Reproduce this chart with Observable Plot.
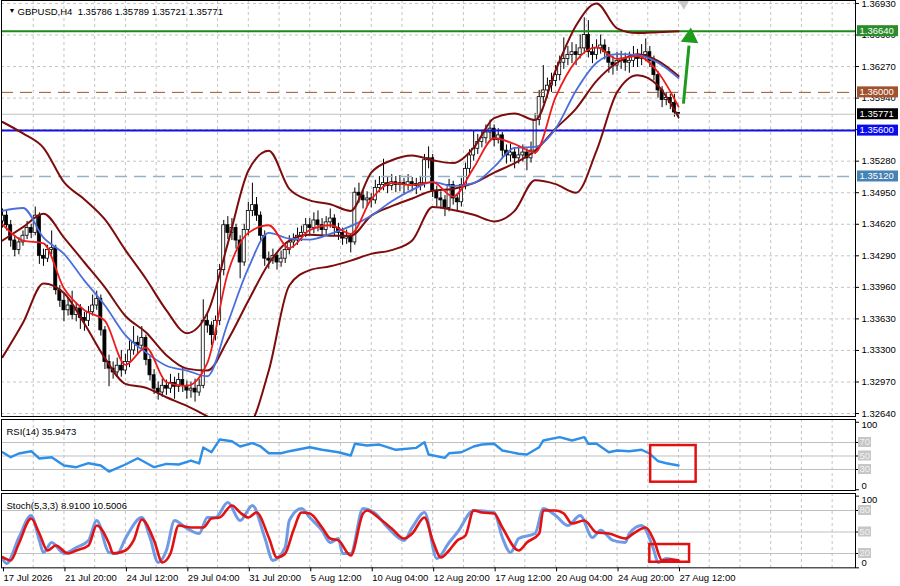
<!DOCTYPE html>
<html><head><meta charset="utf-8">
<script src="https://cdn.jsdelivr.net/npm/d3@7"></script>
<script src="https://cdn.jsdelivr.net/npm/@observablehq/plot@0.6"></script>
<style>
html,body{margin:0;padding:0;background:#fff;}
#chart{position:relative;width:900px;height:586px;overflow:hidden;background:#fff;}
#chart svg{position:absolute;left:0;}
</style></head><body><div id="chart"></div>
<script>
// ---------- DATA ----------
const header = "GBPUSD,H4  1.35786 1.35789 1.35721 1.35771";
const o = [1.3465,1.3471,1.3461,1.3445,1.3435,1.3443,1.3450,1.3458,1.3453,1.3471,
 1.3429,1.3426,1.3435,1.3437,1.3393,1.3382,1.3372,1.3377,1.3367,1.3374,
 1.3364,1.3361,1.3370,1.3377,1.3384,1.3351,1.3318,1.3311,1.3307,1.3314,
 1.3309,1.3318,1.3330,1.3338,1.3335,1.3343,1.3320,1.3304,1.3290,1.3286,
 1.3293,1.3290,1.3296,1.3292,1.3299,1.3293,1.3288,1.3290,1.3286,1.3293,
 1.3361,1.3356,1.3346,1.3361,1.3414,1.3461,1.3453,1.3458,1.3445,1.3422,
 1.3456,1.3476,1.3482,1.3471,1.3450,1.3426,1.3424,1.3429,1.3422,1.3426,
 1.3435,1.3443,1.3445,1.3450,1.3453,1.3461,1.3458,1.3466,1.3461,1.3456,
 1.3464,1.3468,1.3458,1.3453,1.3447,1.3449,1.3443,1.3495,1.3492,1.3487,
 1.3489,1.3487,1.3500,1.3503,1.3505,1.3502,1.3506,1.3503,1.3505,1.3503,
 1.3506,1.3504,1.3502,1.3505,1.3529,1.3531,1.3497,1.3489,1.3487,1.3479,
 1.3503,1.3489,1.3485,1.3503,1.3520,1.3534,1.3541,1.3548,1.3552,1.3558,
 1.3562,1.3550,1.3555,1.3539,1.3534,1.3537,1.3531,1.3534,1.3537,1.3531,
 1.3539,1.3571,1.3595,1.3602,1.3607,1.3612,1.3618,1.3631,1.3635,1.3639,
 1.3642,1.3639,1.3646,1.3660,1.3642,1.3639,1.3646,1.3649,1.3642,1.3631,
 1.3628,1.3633,1.3635,1.3631,1.3633,1.3637,1.3635,1.3639,1.3642,1.3633,
 1.3618,1.3602,1.3592,1.3594,1.3589,1.35786];
const h = [1.3478,1.3476,1.3466,1.3450,1.3448,1.3455,1.3465,1.3462,1.3480,1.3474,
 1.3436,1.3440,1.3455,1.3440,1.3398,1.3390,1.3385,1.3392,1.3380,1.3378,
 1.3370,1.3376,1.3388,1.3392,1.3388,1.3355,1.3325,1.3318,1.3322,1.3330,
 1.3326,1.3340,1.3355,1.3345,1.3355,1.3346,1.3325,1.3310,1.3297,1.3300,
 1.3299,1.3305,1.3302,1.3306,1.3312,1.3298,1.3297,1.3300,1.3300,1.3383,
 1.3370,1.3360,1.3366,1.3420,1.3466,1.3470,1.3468,1.3462,1.3450,1.3462,
 1.3485,1.3505,1.3490,1.3475,1.3455,1.3433,1.3436,1.3432,1.3434,1.3442,
 1.3450,1.3452,1.3458,1.3460,1.3468,1.3468,1.3474,1.3476,1.3468,1.3470,
 1.3478,1.3472,1.3463,1.3458,1.3456,1.3452,1.3500,1.3505,1.3498,1.3496,
 1.3494,1.3508,1.3512,1.3530,1.3512,1.3514,1.3512,1.3513,1.3510,1.3514,
 1.3511,1.3510,1.3512,1.3535,1.3543,1.3535,1.3502,1.3496,1.3492,1.3509,
 1.3507,1.3494,1.3510,1.3526,1.3540,1.3560,1.3556,1.3560,1.3566,1.3571,
 1.3566,1.3562,1.3558,1.3545,1.3546,1.3541,1.3544,1.3545,1.3541,1.3548,
 1.3578,1.3602,1.3628,1.3615,1.3620,1.3628,1.3638,1.3657,1.3648,1.3652,
 1.3650,1.3660,1.3678,1.3675,1.3650,1.3655,1.3660,1.3655,1.3647,1.3638,
 1.3642,1.3643,1.3641,1.3642,1.3648,1.3645,1.3650,1.3656,1.3648,1.3638,
 1.3622,1.3606,1.3600,1.3598,1.3598,1.35789];
const l = [1.3458,1.3455,1.3438,1.3428,1.3430,1.3439,1.3446,1.3447,1.3450,1.3420,
 1.3418,1.3422,1.3430,1.3388,1.3375,1.3360,1.3366,1.3362,1.3360,1.3352,
 1.3350,1.3355,1.3366,1.3372,1.3345,1.3310,1.3292,1.3300,1.3302,1.3302,
 1.3305,1.3312,1.3325,1.3326,1.3330,1.3314,1.3298,1.3284,1.3278,1.3281,
 1.3283,1.3285,1.3279,1.3286,1.3286,1.3279,1.3280,1.3276,1.3282,1.3290,
 1.3348,1.3335,1.3340,1.3356,1.3408,1.3446,1.3445,1.3436,1.3405,1.3418,
 1.3450,1.3470,1.3465,1.3444,1.3418,1.3415,1.3420,1.3414,1.3417,1.3421,
 1.3430,1.3437,1.3440,1.3444,1.3448,1.3450,1.3452,1.3454,1.3448,1.3450,
 1.3458,1.3450,1.3445,1.3440,1.3441,1.3432,1.3440,1.3484,1.3478,1.3480,
 1.3479,1.3483,1.3495,1.3497,1.3494,1.3497,1.3495,1.3496,1.3494,1.3497,
 1.3496,1.3493,1.3497,1.3500,1.3520,1.3490,1.3480,1.3478,1.3470,1.3475,
 1.3482,1.3475,1.3480,1.3498,1.3514,1.3528,1.3535,1.3542,1.3546,1.3550,
 1.3543,1.3546,1.3530,1.3525,1.3527,1.3520,1.3525,1.3527,1.3518,1.3526,
 1.3535,1.3565,1.3588,1.3594,1.3600,1.3606,1.3612,1.3624,1.3628,1.3630,
 1.3628,1.3635,1.3640,1.3636,1.3630,1.3634,1.3640,1.3634,1.3620,1.3618,
 1.3622,1.3624,1.3622,1.3620,1.3626,1.3626,1.3628,1.3632,1.3626,1.3612,
 1.3594,1.3584,1.3586,1.3582,1.3574,1.35721];
const c = [1.3471,1.3461,1.3445,1.3435,1.3443,1.3450,1.3458,1.3453,1.3471,1.3429,
 1.3426,1.3435,1.3437,1.3393,1.3382,1.3372,1.3377,1.3367,1.3374,1.3364,
 1.3361,1.3370,1.3377,1.3384,1.3351,1.3318,1.3311,1.3307,1.3314,1.3309,
 1.3318,1.3330,1.3338,1.3335,1.3343,1.3320,1.3304,1.3290,1.3286,1.3293,
 1.3290,1.3296,1.3292,1.3299,1.3293,1.3288,1.3290,1.3286,1.3293,1.3361,
 1.3356,1.3346,1.3361,1.3414,1.3461,1.3453,1.3458,1.3445,1.3422,1.3456,
 1.3476,1.3482,1.3471,1.3450,1.3426,1.3424,1.3429,1.3422,1.3426,1.3435,
 1.3443,1.3445,1.3450,1.3453,1.3461,1.3458,1.3466,1.3461,1.3456,1.3464,
 1.3468,1.3458,1.3453,1.3447,1.3449,1.3443,1.3495,1.3492,1.3487,1.3489,
 1.3487,1.3500,1.3503,1.3505,1.3502,1.3506,1.3503,1.3505,1.3503,1.3506,
 1.3504,1.3502,1.3505,1.3529,1.3531,1.3497,1.3489,1.3487,1.3479,1.3503,
 1.3489,1.3485,1.3503,1.3520,1.3534,1.3541,1.3548,1.3552,1.3558,1.3562,
 1.3550,1.3555,1.3539,1.3534,1.3537,1.3531,1.3534,1.3537,1.3531,1.3539,
 1.3571,1.3595,1.3602,1.3607,1.3612,1.3618,1.3631,1.3635,1.3639,1.3642,
 1.3639,1.3646,1.3660,1.3642,1.3639,1.3646,1.3649,1.3642,1.3631,1.3628,
 1.3633,1.3635,1.3631,1.3633,1.3637,1.3635,1.3639,1.3642,1.3633,1.3618,
 1.3602,1.3592,1.3594,1.3589,1.3579,1.35771];

// indicator samples (bar index every 5 bars)
const bandIdx = [0,5,10,15,20,25,30,35,40,45,50,55,60,65,70,75,80,85,90,95,100,105,110,115,120,125,130,135,140,145,150,155,160,165];
const bbUpper = [1.3569,1.3557,1.3542,1.3506,1.3488,1.3467,1.3435,1.3405,1.3372,1.3348,1.3369,1.3442,1.3518,1.3539,1.3499,1.3487,1.3483,1.3476,1.3516,1.3529,1.3534,1.3529,1.3526,1.3542,1.3573,1.3578,1.3571,1.3623,1.3670,1.3693,1.3667,1.3662,1.3663,1.3664];
const bbMiddle = [1.3445,1.3459,1.3473,1.3448,1.3422,1.3396,1.3366,1.3349,1.3325,1.3311,1.3309,1.3341,1.3382,1.3421,1.3445,1.3451,1.3450,1.3450,1.3471,1.3481,1.3489,1.3497,1.3499,1.3505,1.3516,1.3526,1.3539,1.3562,1.3583,1.3612,1.3631,1.3640,1.3633,1.3617];
const bbLower = [1.3323,1.3359,1.3400,1.3390,1.3358,1.3322,1.3295,1.3291,1.3281,1.3272,1.3261,1.3248,1.3252,1.3309,1.3398,1.3414,1.3418,1.3424,1.3431,1.3435,1.3445,1.3480,1.3477,1.3472,1.3465,1.3476,1.3508,1.3504,1.3495,1.3539,1.3600,1.3618,1.3607,1.3574];
const maFast = [1.3462,1.3445,1.3442,1.3395,1.3372,1.3361,1.3315,1.3333,1.3297,1.3293,1.3317,1.3411,1.3453,1.3461,1.3437,1.3456,1.3461,1.3452,1.3488,1.3505,1.3503,1.3506,1.3491,1.3521,1.3552,1.3546,1.3537,1.3595,1.3633,1.3647,1.3635,1.3638,1.3621,1.3585];
const maSlow = [1.3476,1.3479,1.3448,1.3431,1.3403,1.3377,1.3346,1.3328,1.3314,1.3309,1.3303,1.3359,1.3416,1.3453,1.3447,1.3446,1.3452,1.3460,1.3471,1.3486,1.3498,1.3506,1.3502,1.3505,1.3522,1.3542,1.3543,1.3562,1.3602,1.3631,1.3640,1.3639,1.3631,1.3615];

const rsiIdx = [0,2,4,7,9,12,15,18,21,24,26,30,33,37,40,43,46,48,49,51,53,56,58,61,63,65,68,70,75,78,82,85,86,89,92,96,101,103,104,108,109,112,115,117,120,122,126,128,131,132,136,139,142,143,145,148,150,153,156,158,160,162,165];
const rsiVal = [55.6,48.2,53.7,57.1,46.3,48.2,35.9,33.4,39.3,35.9,27.0,37.4,46.7,33.4,38.4,37.4,43.3,38.9,62.6,55.6,74.4,71.9,64.1,69.0,64.1,54.1,54.1,57.1,63.0,59.2,55.6,50.7,68.1,65.6,67.0,59.2,62.1,70.4,52.2,47.3,54.1,55.6,64.1,67.0,68.1,58.1,53.3,52.2,63.0,73.0,77.9,73.0,77.9,68.1,68.1,55.6,58.1,57.1,59.2,53.3,42.3,39.3,35.9473];

const kIdx = [0,1,4,7,9,10,12,15,18,21,23,26,28,30,34,36,38,40,42,45,48,50,52,55,58,61,64,66,69,70,73,75,78,80,82,83,85,88,91,94,98,100,103,106,109,111,115,120,122,124,126,130,132,135,138,141,144,146,149,152,153,156,159,160,162,165];
const kVal = [12.6,6.1,42.3,73,38.2,21.4,35.4,20,28.4,38.2,66,21.4,20,40.9,70.2,42.3,7.5,24.2,66,54.9,47.9,70.2,70.2,91,66,87,42.3,10.3,28.4,66,82.8,70.2,52.1,35.4,40.9,20,20,82.8,75.8,56.3,38.2,56.3,77.2,13.1,35.4,49.3,80,77.2,42.3,21.4,40.9,47.9,82.8,73,59.1,73,42.3,52.5,38.2,35.4,47.9,59.1,24.2,7.5,13.1,8.91];
const dIdx = [0,2,4,7,9,11,13,16,18,21,23,26,27,30,32,34,37,39,41,43,46,49,51,53,56,58,60,62,65,67,69,71,73,75,78,80,82,85,88,89,92,95,98,100,103,105,107,109,111,113,115,117,120,122,126,128,131,132,135,137,139,142,145,148,152,154,157,159,161,163,165];
const dVal = [14.9,10.3,34,68.8,47.9,24.2,31.2,20,24.2,31.2,59.1,34,20,24.2,38.2,67.4,38.2,7.5,20,59.1,56.3,56.3,68.8,70.2,87,77.2,70.2,77.2,42.3,14.4,20,52.1,77.2,75.8,56.3,40.9,38.2,17.2,75.8,80,68.8,54.9,40.9,47.9,70.2,38.2,14.4,24.2,38.2,45.1,80,77.2,75.8,56.3,24.2,35.4,47.9,80,80,75.8,61.9,66,49.3,47.9,40.9,47.9,56.3,38.2,10.3,11.7,10.5006];

const priceTicks = [1.3264,1.3297,1.3330,1.3363,1.3396,1.3429,1.3462,1.3495,1.3528,1.3561,1.3594,1.3627,1.3660,1.3693];
const hiddenTickLabels = [1.3561]; // fully covered by the 1.35600 badge in the reference
const labelIdx = [0,15,30,45,60,75,90,105,120,135,150,165];
const xLabels = ["17 Jul 2026","21 Jul 20:00","24 Jul 12:00","29 Jul 04:00","31 Jul 20:00","5 Aug 12:00","10 Aug 04:00","12 Aug 20:00","17 Aug 12:00","20 Aug 04:00","24 Aug 20:00","27 Aug 12:00"];
const gridIdx = [7.5,15,22.5,30,37.5,45,52.5,60,67.5,75,82.5,90,97.5,105,112.5,120,127.5,135,142.5,150,157.5,165,172.5,180,187.5,195,202.5];

// horizontal objects
const levels = [
  {v:1.3664, t:"1.36640", line:"#1d8a1d", bg:"#2a8c2a", w:2, dash:null},
  {v:1.3600, t:"1.36000", line:"#a0522d", bg:"#a0522d", w:1, dash:"12,7"},
  {v:1.35771, t:"1.35771", line:"#c0c0c0", bg:"#000000", w:1, dash:null},
  {v:1.3560, t:"1.35600", line:"#1010e0", bg:"#0a0aee", w:2, dash:null},
  {v:1.3512, t:"1.35120", line:"#96b2c6", bg:"#4682b4", w:1.5, dash:"12,7"}
];
// annotations
const arrowShaft = {x1:166.2, y1:1.35883, x2:167.56, y2:1.36490};
const arrowHead = {x:167.8, y:1.36574};
const marker = {x:166.3, y:1.36968};
const rsiBox = {x1:158.2, x2:169.3, y1:65.5, y2:11.2};
const stochBox = {x1:158.0, x2:167.7, y1:32.5, y2:7.8};
const rsiLevels = [70,50,30];
const stochLevels = [80,50,20];

// ---------- DRAW ----------
const FONT = "'Liberation Sans', Arial, sans-serif";
const XD = [-0.244, 208.2];
const styleBase = {fontFamily: FONT, fontSize: "9.5px", background: "transparent", overflow: "visible", color:"#000"};
const grid = {stroke:"#c4c4c4", strokeDasharray:"3,3", strokeWidth:1};
const bars = c.map((v, i) => ({i, o:o[i], h:h[i], l:l[i], c:v}));
const chart = document.getElementById("chart");

const main = Plot.plot({
  width: 900, height: 417, marginLeft: 1, marginRight: 45, marginTop: 0, marginBottom: 1,
  x: {domain: XD, axis: null},
  y: {domain: [1.32609, 1.36961], axis: null},
  style: styleBase,
  marks: [
    Plot.ruleY(priceTicks, grid),
    Plot.ruleX(gridIdx, grid),
    Plot.ruleX(bars, {x:"i", y1:"l", y2:"h", stroke:"#000", strokeWidth:1, clip:true}),
    Plot.rect(bars, {x1: d => d.i - 0.37, x2: d => d.i + 0.37, y1:"o", y2:"c",
      fill: d => d.c >= d.o ? "#ffffff" : "#000000", stroke:"#000", strokeWidth:0.8, clip:true}),
    ...levels.map(L => Plot.ruleY([L.v], {stroke:L.line, strokeWidth:L.w, strokeDasharray:L.dash})),
    Plot.line(bbUpper, {x: bandIdx, y: bbUpper, stroke:"#7d0d0d", strokeWidth:2, curve:"monotone-x", clip:true}),
    Plot.line(bbMiddle, {x: bandIdx, y: bbMiddle, stroke:"#7d0d0d", strokeWidth:2, curve:"monotone-x", clip:true}),
    Plot.line(bbLower, {x: bandIdx, y: bbLower, stroke:"#7d0d0d", strokeWidth:2, curve:"monotone-x", clip:true}),
    Plot.line(maSlow, {x: bandIdx, y: maSlow, stroke:"#4a6fdc", strokeWidth:1.8, curve:"monotone-x"}),
    Plot.line(maFast, {x: bandIdx, y: maFast, stroke:"#ee1b1b", strokeWidth:1.8, curve:"monotone-x"}),
    Plot.link([arrowShaft], {x1:"x1", y1:"y1", x2:"x2", y2:"y2", stroke:"#1e9a1e", strokeWidth:3}),
    Plot.dot([arrowHead], {x:"x", y:"y", symbol:"triangle", r:6.5, fill:"#1e9a1e", rotate:5}),
    Plot.dot([marker], {x:"x", y:"y", symbol:"diamond", r:6, fill:"#c8c8c8"}),
    Plot.axisY(priceTicks, {anchor:"right", tickFormat: d => hiddenTickLabels.includes(d) ? "" : d.toFixed(5),
      tickSize:3, tickPadding:3, label:null, fill:"#000", stroke:"#000"}),
    Plot.frame({stroke:"#000"}),
    Plot.text(["\u25BC"], {frameAnchor:"top-left", dx:7, dy:8, fontSize:7, fill:"#000"}),
    Plot.text([header], {frameAnchor:"top-left", dx:16, dy:8, textAnchor:"start", fill:"#000", fontSize:9.5})
  ]
});
main.style.top = "0px";
chart.appendChild(main);

const rsi = Plot.plot({
  width: 900, height: 74, marginLeft: 1, marginRight: 45, marginTop: 2, marginBottom: 1,
  x: {domain: XD, axis: null},
  y: {domain: [-1.11, 104.07], axis: null},
  style: styleBase,
  marks: [
    Plot.ruleX(gridIdx, grid),
    Plot.ruleY(rsiLevels, {stroke:"#c0c0c0"}),
    Plot.line(rsiVal, {x: rsiIdx, y: rsiVal, stroke:"#2e8fe9", strokeWidth:2.4}),
    Plot.rect([rsiBox], {x1:"x1", x2:"x2", y1:"y1", y2:"y2", fill:"none", stroke:"#e31010", strokeWidth:2.5}),
    Plot.axisY([100,70,50,30,0], {anchor:"right", tickSize:3, tickFormat: () => "", label:null, stroke:"#000"}),
    Plot.text([100], {y: d => d, frameAnchor:"right", dx:6, dy:3, textAnchor:"start", text: d => String(d), fill:"#000"}),
    Plot.text([0], {y: d => d, frameAnchor:"right", dx:6, dy:-4, textAnchor:"start", text: d => String(d), fill:"#000"}),
    Plot.frame({stroke:"#000"}),
    Plot.text(["RSI(14) 35.9473"], {frameAnchor:"top-left", dx:5, dy:9, textAnchor:"start", fill:"#000"})
  ]
});
rsi.style.top = "417px";
chart.appendChild(rsi);

const stoch = Plot.plot({
  width: 900, height: 95, marginLeft: 1, marginRight: 45, marginTop: 2, marginBottom: 18.67,
  x: {domain: XD, axis: null},
  y: {domain: [0, 103.7], axis: null},
  style: styleBase,
  marks: [
    Plot.ruleX(gridIdx, grid),
    Plot.ruleY(stochLevels, {stroke:"#c0c0c0"}),
    Plot.line(kVal, {x: kIdx, y: kVal, stroke:"#6f9be6", strokeWidth:3, curve:"monotone-x"}),
    Plot.line(dVal, {x: dIdx, y: dVal, stroke:"#e01212", strokeWidth:2.6, curve:"monotone-x"}),
    Plot.rect([stochBox], {x1:"x1", x2:"x2", y1:"y1", y2:"y2", fill:"none", stroke:"#e31010", strokeWidth:2.5}),
    Plot.axisY([100,80,50,20,0], {anchor:"right", tickSize:3, tickFormat: () => "", label:null, stroke:"#000"}),
    Plot.text([100], {y: d => d, frameAnchor:"right", dx:6, dy:4, textAnchor:"start", text: d => String(d), fill:"#000"}),
    Plot.text([0], {y: d => d, frameAnchor:"right", dx:6, dy:-5, textAnchor:"start", text: d => String(d), fill:"#000"}),
    Plot.axisX(labelIdx, {anchor:"bottom", tickSize:4, tickPadding:2, textAnchor:"start", dx:1,
      tickFormat: d => xLabels[labelIdx.indexOf(d)], label:null, fill:"#000", stroke:"#000"}),
    Plot.frame({stroke:"#000"}),
    Plot.text(["Stoch(5,3,3) 8.9100 10.5006"], {frameAnchor:"top-left", dx:5, dy:9, textAnchor:"start", fill:"#000"})
  ]
});
stoch.style.top = "491px";
chart.appendChild(stoch);

// badges on the right scale, positioned through each plot's y scale
function badges(plot, items, x, w, hgt, tx) {
  const ys = plot.scale("y");
  const g = d3.select(plot).append("g").attr("text-anchor", "start");
  for (const it of items) {
    const y = ys.apply(it.v);
    g.append("rect").attr("x", x).attr("y", y - hgt / 2).attr("width", w).attr("height", hgt).attr("fill", it.bg);
    g.append("text").attr("x", x + tx).attr("y", y).attr("dy", "0.35em").attr("text-anchor", "start")
      .attr("fill", it.fg).style("font-family", FONT).style("font-size", "9.5px").text(it.t);
  }
}
badges(main, levels.map(L => ({v:L.v, t:L.t, bg:L.bg, fg:"#fff"})), 857, 41, 11, 2.5);
badges(rsi, rsiLevels.map(v => ({v, t:String(v), bg:"#c6c6c6", fg:"#f2f2f2"})), 858, 13, 10, 1.5);
badges(stoch, stochLevels.map(v => ({v, t:String(v), bg:"#c6c6c6", fg:"#f2f2f2"})), 858, 13, 10, 1.5);
</script></body></html>
